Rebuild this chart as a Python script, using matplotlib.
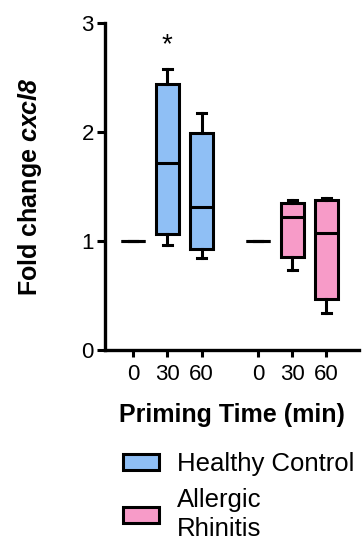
import matplotlib.pyplot as plt
from matplotlib.patches import Patch

plt.rcParams['font.family'] = ['Liberation Sans', 'DejaVu Sans']
plt.rcParams['mathtext.fontset'] = 'custom'
plt.rcParams['mathtext.it'] = 'Liberation Sans:italic:bold'
plt.rcParams['mathtext.rm'] = 'Liberation Sans:italic:bold'

# ─── data ─────────────────────────────────────────────────────────────────────
time_labels = ["0", "30", "60", "0", "30", "60"]
groups = ["Healthy Control", "Healthy Control", "Healthy Control",
          "Allergic Rhinitis", "Allergic Rhinitis", "Allergic Rhinitis"]
whislo = [1.0, 0.96, 0.84, 1.0, 0.73, 0.34]
q1     = [1.0, 1.06, 0.93, 1.0, 0.85, 0.47]
med    = [1.0, 1.715, 1.31, 1.0, 1.22, 1.075]
q3     = [1.0, 2.44, 1.99, 1.0, 1.35, 1.375]
whishi = [1.0, 2.58, 2.17, 1.0, 1.375, 1.39]
signif = ["", "*", "", "", "", ""]

colors = {"Healthy Control": "#8fbff5", "Allergic Rhinitis": "#f79bc8"}
positions = [1, 2, 3, 4.65, 5.65, 6.65]

fig = plt.figure(figsize=(3.63, 5.46), dpi=100)
ax = fig.add_axes([105 / 363, 1 - 350 / 546, 254 / 363, 327 / 546])

stats = []
for i in range(len(med)):
    stats.append(dict(whislo=whislo[i], q1=q1[i], med=med[i], q3=q3[i],
                      whishi=whishi[i], fliers=[]))

lw = 2.2
bp = ax.bxp(stats, positions=positions, widths=0.68, capwidths=0.25,
            patch_artist=True, showfliers=False,
            boxprops=dict(linewidth=lw, edgecolor="black"),
            medianprops=dict(color="black", linewidth=lw),
            whiskerprops=dict(color="black", linewidth=lw),
            capprops=dict(color="black", linewidth=lw))
for patch, g in zip(bp["boxes"], groups):
    patch.set_facecolor(colors[g])

for x, s in zip(positions, signif):
    if s:
        ax.text(x, 2.80, s, ha="center", va="center", fontsize=20)

ax.set_xlim(0.18, 7.6)
ax.set_ylim(0, 3)
ax.set_yticks([0, 1, 2, 3])
ax.set_yticklabels(["0", "1", "2", "3"], fontsize=16)
ax.set_xticks(positions)
ax.set_xticklabels(time_labels, fontsize=16)
for sp in ["top", "right"]:
    ax.spines[sp].set_visible(False)
for sp in ["left", "bottom"]:
    ax.spines[sp].set_linewidth(2.4)
ax.tick_params(axis="y", width=2.2, length=6, pad=2)
ax.tick_params(axis="x", width=2.2, length=5, pad=5)

ax.set_ylabel(r"Fold change $\mathit{cxcl8}$", fontsize=18, fontweight="bold",
              labelpad=27)
fig.text(232 / 363, 1 - 415 / 546, "Priming Time (min)", ha="center",
         va="center", fontsize=18, fontweight="bold")

handles = [Patch(facecolor=colors["Healthy Control"], edgecolor="black", linewidth=2.2),
           Patch(facecolor=colors["Allergic Rhinitis"], edgecolor="black", linewidth=2.2)]
leg = fig.legend(handles, ["Healthy Control", "Allergic\nRhinitis"],
                 loc="upper left", bbox_to_anchor=(123 / 363, 1 - 452 / 546),
                 frameon=False, fontsize=18.5, handlelength=1.4, handleheight=0.55,
                 handletextpad=0.7, labelspacing=0.45, borderaxespad=0, borderpad=0)
for t in leg.get_texts():
    t.set_linespacing(1.3)

fig.savefig("out.png", dpi=100)
